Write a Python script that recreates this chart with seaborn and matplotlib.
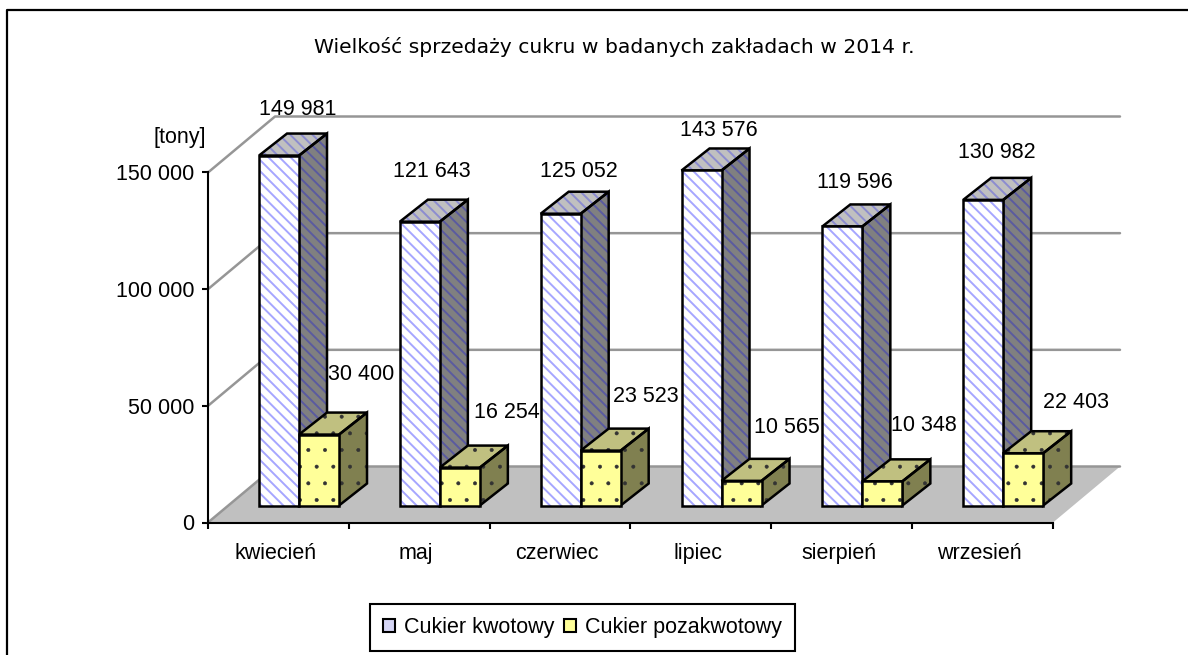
import numpy as np
import pandas as pd
import matplotlib.pyplot as plt
import seaborn as sns
from matplotlib.lines import Line2D
from matplotlib.patches import Patch, Polygon
from matplotlib.transforms import Affine2D, IdentityTransform

miesiace = ['kwiecień', 'maj', 'czerwiec', 'lipiec', 'sierpień', 'wrzesień']
kwotowy = [149981, 121643, 125052, 143576, 119596, 130982]
pozakwotowy = [30400, 16254, 23523, 10565, 10348, 22403]
serie = ['Cukier kwotowy', 'Cukier pozakwotowy']
y_ticks = [0, 50000, 100000, 150000]
y_labels = ['0', '50 000', '100 000', '150 000']

W, H = 1188, 655
WALL = (67, 56)      # przesuniecie tylnej sciany [px]
BAR_SHIFT = (20.6, 17)
DEPTH = (28, 22)
FS = 15.5

sns.set_theme(style='white')
plt.rcParams['font.family'] = ['Liberation Sans', 'DejaVu Sans']
plt.rcParams['text.color'] = 'black'
plt.rcParams['xtick.color'] = 'black'
plt.rcParams['ytick.color'] = 'black'

df = pd.DataFrame({'miesiac': miesiace * 2,
                   'rodzaj': [serie[0]] * 6 + [serie[1]] * 6,
                   'wartosc': kwotowy + pozakwotowy})

fig = plt.figure(figsize=(W / 100, H / 100), dpi=100, facecolor='white')
ax = fig.add_axes([208 / W, 1 - 522.5 / H, (1053 - 208) / W, 350 / H])
ax.patch.set_visible(False)

sns.barplot(data=df, x='miesiac', y='wartosc', hue='rodzaj', hue_order=serie,
            palette=['#ffffff', '#ffff99'], width=0.568, gap=0, legend=False,
            errorbar=None, saturation=1, ax=ax)
bars = list(ax.patches)
ax.set_xlim(-0.5, 5.5)
ax.set_ylim(0, 150000)
ax.set_xlabel('')
ax.set_ylabel('')
for s in ['top', 'right']:
    ax.spines[s].set_visible(False)
for s in ['left', 'bottom']:
    ax.spines[s].set_linewidth(1.5)
    ax.spines[s].set_color('black')

ax.set_yticks(y_ticks, y_labels, fontsize=FS)
ax.tick_params(axis='y', left=True, length=4, width=1.5, color='black', pad=6)
ax.set_xticks(np.arange(-0.5, 6, 1), [''] * 7)
ax.tick_params(axis='x', which='major', bottom=True, length=4.5, width=1.5, color='black')
ax.set_xticks(np.arange(6), miesiace, minor=True, fontsize=FS)
ax.tick_params(axis='x', which='minor', length=0, pad=15)
for t in ax.get_xticklabels(minor=True):
    t.set_transform(t.get_transform() + Affine2D().translate(-3, 0))


def to_px(x, y):
    return ax.transData.transform((x, y))


def add_poly(pts, face, hatch=None, hatch_col=None, z=3, hatch_lw=1.0):
    # najpierw wypelnienie i kreskowanie, potem czarny kontur
    poly = Polygon(pts, closed=True, facecolor=face, edgecolor=hatch_col or face, hatch=hatch,
                   linewidth=0, transform=IdentityTransform(), clip_on=False, zorder=z)
    poly.set_hatch_linewidth(hatch_lw)
    ax.add_patch(poly)
    ax.add_patch(Polygon(pts, closed=True, fill=False, edgecolor='black', linewidth=1.8, joinstyle='miter',
                         transform=IdentityTransform(), clip_on=False, zorder=z + 0.001))


# podloga i tylna sciana
x0, x1 = ax.get_xlim()
wall = np.array(WALL)
a, b = to_px(x0, 0), to_px(x1, 0)
ax.add_patch(Polygon([a, b, b + wall, a + wall], closed=True, facecolor='#c0c0c0', edgecolor='none',
                     transform=IdentityTransform(), clip_on=False, zorder=0.5))
for v in y_ticks:
    p, q = to_px(x0, v), to_px(x1, v)
    ax.add_line(Line2D([p[0], p[0] + wall[0], q[0] + wall[0]], [p[1], p[1] + wall[1], q[1] + wall[1]],
                       color='#969696', lw=1.8, transform=IdentityTransform(), clip_on=False, zorder=0.8))

styles = [
    {'front': ('#ffffff', '#a6a6ff', '\\\\\\'), 'side': ('#808080', '#5a5aa0', '\\\\\\'),
     'top': ('#c0c0c0', '#8c8cd0', '\\\\\\'), 'lw': 1.4},
    {'front': ('#ffff99', '#333333', '.'), 'side': ('#808050', '#333333', '.'),
     'top': ('#c0c080', '#333333', '.'), 'lw': 0.4},
]

d = np.array(DEPTH)
shift = np.array(BAR_SHIFT)
for i, bar in enumerate(bars):
    st = styles[i // 6]
    bx0, bx1 = bar.get_x(), bar.get_x() + bar.get_width()
    h = bar.get_height()
    bl, br = to_px(bx0, 0) + shift, to_px(bx1, 0) + shift
    tl, tr = to_px(bx0, h) + shift, to_px(bx1, h) + shift
    z = 3 + (i // 6) + (i % 6) * 0.01
    add_poly([tl, tr, tr + d, tl + d], st['top'][0], st['top'][2], st['top'][1], z, st['lw'])
    add_poly([br, tr, tr + d, br + d], st['side'][0], st['side'][2], st['side'][1], z, st['lw'])
    add_poly([bl, br, tr, tl], st['front'][0], st['front'][2], st['front'][1], z + 0.002, st['lw'])
    bar.set_visible(False)

# etykiety danych, przesuniecia w px wzgledem gornej krawedzi slupka
offs_kw = [(19, 46), (12, 50), (18, 42), (17, 40), (13, 44), (14, 47)]
offs_poza = [(42, 60), (47, 55), (45, 54), (45, 53), (42, 56), (53, 51)]
for bar, v, off in zip(bars, kwotowy + pozakwotowy, offs_kw + offs_poza):
    cx = bar.get_x() + bar.get_width() / 2
    ax.annotate(f'{v:,}'.replace(',', ' '), xy=(cx, v), xycoords='data',
                xytext=(BAR_SHIFT[0] + off[0], BAR_SHIFT[1] + off[1]), textcoords='offset pixels',
                ha='center', va='center', fontsize=FS, color='black', zorder=10, annotation_clip=False)

fig.text(179.5 / W, 1 - 137 / H, '[tony]', ha='center', va='center', fontsize=FS, color='black')
fig.text(614 / W, 1 - 47 / H, 'Wielkość sprzedaży cukru w badanych zakładach w 2014 r.', ha='center', va='center',
         fontsize=14.6, color='black', family=['DejaVu Sans'])

# ramka wykresu - tylko lewa i gorna krawedz
fig.add_artist(Line2D([7 / W, 7 / W, 1], [0, 1 - 10 / H, 1 - 10 / H], color='black', lw=1.6,
                      transform=fig.transFigure))

handles = [Patch(facecolor='#d5d5f5', edgecolor='black', linewidth=1.5),
           Patch(facecolor='#ffff99', edgecolor='black', linewidth=1.5)]
leg = fig.legend(handles, serie, ncols=2, loc='center', bbox_to_anchor=(582.5 / W, 1 - 627.5 / H),
                 fontsize=FS, frameon=True, fancybox=False, framealpha=1, edgecolor='black',
                 handlelength=0.56, handleheight=0.56, handletextpad=0.42, columnspacing=0.46,
                 borderpad=0.6, borderaxespad=0)
leg.get_frame().set_linewidth(1.5)

fig.savefig('out.png', dpi=100)
